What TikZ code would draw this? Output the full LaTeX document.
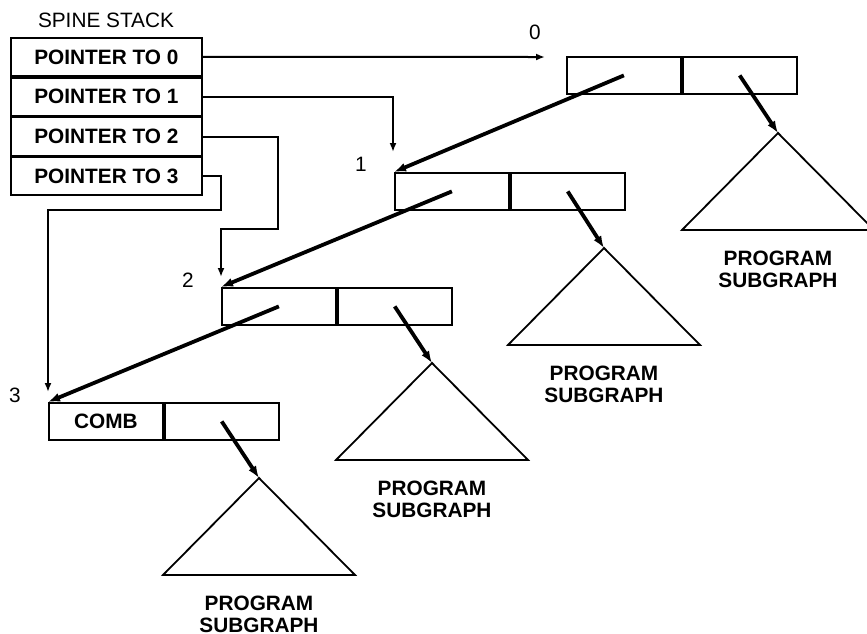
\documentclass[tikz,border=0pt]{standalone}
\usepackage{fontspec}
\setmainfont{Liberation Sans}
\usetikzlibrary{arrows.meta,positioning}

\tikzset{
  cell/.style={draw,line width=0.9pt,minimum width=57pt,minimum height=18.5pt,
    inner sep=0pt,font=\fontsize{10.4}{12}\selectfont\bfseries},
  stackcell/.style={draw,line width=0.9pt,minimum width=95.5pt,
    minimum height=19pt,inner sep=0pt,
    font=\fontsize{10.4}{12}\selectfont\bfseries},
  link/.style={line width=1pt,-{Latex[length=4.5pt,width=3.5pt]}},
  spine/.style={line width=1.9pt,-{Latex[length=6pt,width=4.5pt]}},
  subgraph/.style={draw,line width=0.9pt,line join=miter},
  caption/.style={font=\fontsize{10.4}{11}\selectfont\bfseries,align=center}
}

\begin{document}
\begin{tikzpicture}[x=0.5pt,y=-0.5pt,font=\fontsize{10.4}{12}\selectfont]
  \useasboundingbox (0,0) rectangle (867,633);

  % Spine stack
  \node (title) at (106,20) {SPINE STACK};
  \node[stackcell,anchor=north west] (s0) at (10,37) {POINTER TO 0};
  \node[stackcell,below=0pt of s0] (s1) {POINTER TO 1};
  \node[stackcell,below=0pt of s1] (s2) {POINTER TO 2};
  \node[stackcell,below=0pt of s2] (s3) {POINTER TO 3};

  % Application cells, one per spine level
  \foreach \i/\x/\y/\txt in {0/566/56/{},1/394/172/{},2/221/287/{},3/48/402/COMB}{
    \node[cell,anchor=north west] (h\i) at (\x,\y) {\txt};
    \node[cell,right=0pt of h\i] (t\i) {};
  }
  \node (n0) at (535,32) {0};
  \node (n1) at (361,164) {1};
  \node (n2) at (188,280) {2};
  \node (n3) at (15,395) {3};

  % Program subgraphs hanging off the right halves
  \foreach \i/\x/\y in {0/778/133,1/604/248,2/432/363,3/259/478}{
    \coordinate (a\i) at (\x,\y);
    \draw[subgraph] (a\i) -- ++(96,97) -- ++(-192,0) -- cycle;
    \node[caption] (g\i) at (\x,\y+136) {PROGRAM\\SUBGRAPH};
  }

  % Spine and argument pointers
  \foreach \i/\j in {0/1,1/2,2/3}
    \draw[spine] (h\i.center) -- (h\j.north west);
  \foreach \i in {0,...,3}
    \draw[spine] (t\i.center) -- (a\i);

  % Stack entries
  \coordinate (e0) at (545,57);
  \coordinate (e1) at (393,152);
  \coordinate (e2) at (221,277);
  \coordinate (e3) at (48,392);
  \draw[link] (s0.east) -- (e0);
  \draw[link] (s1.east) -| (e1);
  \draw[link] (s2.east) -| (278,229) -| (e2);
  \draw[link] (s3.east) -| (221,210) -| (e3);
\end{tikzpicture}
\end{document}
